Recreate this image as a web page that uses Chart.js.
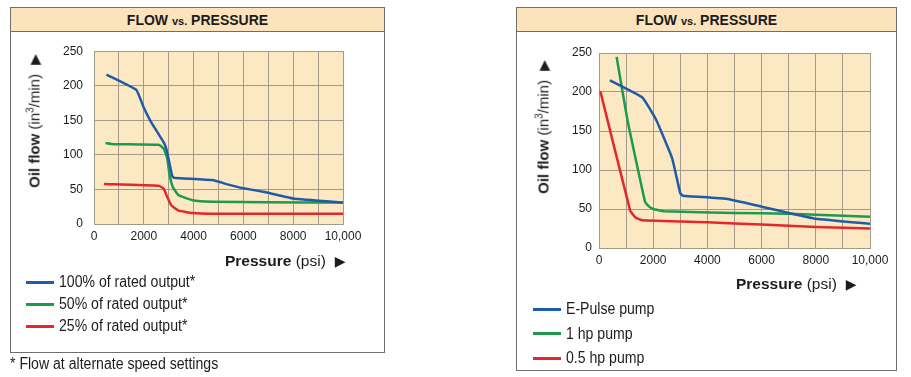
<!DOCTYPE html>
<html>
<head>
<meta charset="utf-8">
<script src="https://cdn.jsdelivr.net/npm/chart.js@4.4.1/dist/chart.umd.min.js"></script>
<style>
  body {
    margin: 0;
    width: 911px;
    height: 377px;
    position: relative;
    overflow: hidden;
    background: #fff;
    color: #1c1c1c;
    font-family: "Liberation Sans", Arial, sans-serif;
  }
  .panel {
    position: absolute;
    box-sizing: border-box;
    border: 1.5px solid #6e6e6e;
  }
  .band {
    height: 23px;
    background: #fbe4bb;
    border-bottom: 1.5px solid #6e6e6e;
    text-align: center;
    font-weight: bold;
    font-size: 14px;
    line-height: 24px;
  }
  .band small { font-size: 11px; }
  canvas { position: absolute; }
  .ytitle {
    position: absolute;
    white-space: nowrap;
    font-size: 15px;
    transform: translate(-50%, -50%) rotate(-90deg);
  }
  .ytitle sup { font-size: 10px; line-height: 0; vertical-align: 6px; }
  .xtitle {
    position: absolute;
    white-space: nowrap;
    font-size: 15.5px;
    transform: translateY(-50%);
  }
  .arrow { font-family: "DejaVu Sans", sans-serif; font-size: 14px; margin-left: 9px; }
  .legend {
    position: absolute;
    font-size: 16px;
    white-space: nowrap;
  }
  .legend div { display: flex; align-items: center; }
  .legend i { display: inline-block; width: 28px; height: 3px; margin-right: 5px; }
  /* texte condensé façon Helvetica Condensed */
  .narrow { display: inline-block; transform: scaleX(0.88); transform-origin: left center; }
  .note {
    position: absolute;
    left: 10px;
    top: 355px;
    font-size: 16px;
    white-space: nowrap;
  }
</style>
</head>
<body>

<div class="panel" style="left:10px; top:7px; width:375px; height:346px;">
  <div class="band">FLOW <small>vs.</small> PRESSURE</div>
</div>
<canvas id="leftChart" width="373" height="319" style="left:11px; top:33px; width:373px; height:319px;"></canvas>
<div class="ytitle" style="left:34px; top:121px;"><b>Oil flow</b> (in<sup>3</sup>/min)<span class="arrow">▶</span></div>
<div class="xtitle" style="left:225px; top:261px;"><b>Pressure</b> (psi)<span class="arrow">▶</span></div>
<div class="legend" id="leftLegend" style="left:26px; top:271px; line-height:22px;"></div>
<div class="note"><span class="narrow">* Flow at alternate speed settings</span></div>

<div class="panel" style="left:516px; top:7px; width:381px; height:364px;">
  <div class="band">FLOW <small>vs.</small> PRESSURE</div>
</div>
<canvas id="rightChart" width="379" height="337" style="left:517px; top:33px; width:379px; height:337px;"></canvas>
<div class="ytitle" style="left:543px; top:127px;"><b>Oil flow</b> (in<sup>3</sup>/min)<span class="arrow">▶</span></div>
<div class="xtitle" style="left:736px; top:284px;"><b>Pressure</b> (psi)<span class="arrow">▶</span></div>
<div class="legend" id="rightLegend" style="left:533px; top:297px; line-height:24.5px;"></div>

<script>
// Axes : ticks affichés
const pressureTicks = [0, 2000, 4000, 6000, 8000, 10000];
const flowTicks = [0, 50, 100, 150, 200, 250];

// Graphique de gauche (vitesses alternatives)
const leftLabels = ['100% of rated output*', '50% of rated output*', '25% of rated output*'];
const left100Psi = [500, 1700, 1980, 2270, 2800, 2910, 3140, 3200, 4750, 5400, 5950, 6900, 8000, 10000];
const left100Flow = [216, 194, 170, 149, 118, 108, 69.5, 67, 63.5, 57, 52, 46, 37, 31];
const left50Psi = [460, 800, 2600, 2800, 2940, 3030, 3170, 3400, 3950, 4750, 6900, 10000];
const left50Flow = [117, 115.5, 114.5, 109, 95, 72, 53, 41.5, 34.5, 32.3, 31.4, 31];
const left25Psi = [400, 2600, 2800, 2940, 3110, 3400, 3950, 4750, 10000];
const left25Flow = [58, 55.5, 51, 39, 26.7, 19.3, 16, 15, 15];

// Graphique de droite (comparaison des pompes)
const rightLabels = ['E-Pulse pump', '1 hp pump', '0.5 hp pump'];
const ePulsePsi = [400, 1600, 2100, 2700, 3000, 3100, 4700, 6000, 7000, 8000, 10000];
const ePulseFlow = [215, 193, 165, 115, 70, 67, 63, 53, 45, 37.5, 31];
const oneHpPsi = [650, 1050, 1700, 1850, 2000, 2400, 5000, 7000, 10000];
const oneHpFlow = [245, 164, 59, 53, 50, 47, 45, 44, 40];
const halfHpPsi = [50, 1150, 1350, 1600, 4000, 6000, 8000, 10000];
const halfHpFlow = [201, 48, 39, 35.5, 33, 30, 27, 25];

const seriesColors = ['#1f5ca6', '#1d9a4c', '#e2282b'];
const gridColor = '#a49a88';
const tickFont = { family: '"Liberation Sans", Arial, sans-serif', size: 12 };

/**
 * Assemble les couples (x, y) d'une série
 */
function toPoints(xs, ys) {
  return xs.map((x, i) => ({ x: x, y: ys[i] }));
}

/**
 * Remplit la zone de tracé en beige
 */
const plotBackground = {
  id: 'plotBackground',
  beforeDraw(chart, args, opts) {
    const { ctx, chartArea } = chart;
    ctx.save();
    ctx.fillStyle = opts.color;
    ctx.fillRect(chartArea.left, chartArea.top, chartArea.width, chartArea.height);
    ctx.restore();
  }
};

/**
 * Crée un graphique pression / débit
 *
 * @param {string} canvasId - ID du canvas
 * @param {Array} labels - Noms des séries
 * @param {Array} series - Couples [psi, flow]
 * @param {Object} geo - Marges de placement
 */
function createFlowChart(canvasId, labels, series, geo) {
  const datasets = series.map((s, i) => ({
    label: labels[i],
    data: toPoints(s[0], s[1]),
    borderColor: seriesColors[i],
    backgroundColor: seriesColors[i]
  }));

  return new Chart(document.getElementById(canvasId), {
    type: 'line',
    data: { datasets: datasets },
    plugins: [plotBackground],
    options: {
      responsive: false,
      animation: false,
      devicePixelRatio: 1,
      layout: {
        padding: { left: 0, top: geo.top, right: geo.right, bottom: geo.bottom }
      },
      elements: {
        point: { radius: 0 },
        line: { borderWidth: 2.5, tension: 0.1 }
      },
      plugins: {
        legend: { display: false },
        tooltip: { enabled: false },
        plotBackground: { color: '#fde8c4' }
      },
      scales: {
        x: {
          type: 'linear',
          min: 0,
          max: 10000,
          grid: { color: gridColor, drawTicks: false },
          border: { color: gridColor },
          ticks: {
            stepSize: 1000,
            autoSkip: false,
            maxRotation: 0,
            padding: 5,
            color: '#1c1c1c',
            font: tickFont,
            callback: (value) => {
              if (!pressureTicks.includes(value)) return '';
              return value >= 10000 ? value.toLocaleString('en-US') : String(value);
            }
          },
          afterFit: (scale) => { scale.height = 22; }
        },
        y: {
          min: 0,
          max: 250,
          grid: { color: gridColor, drawTicks: false },
          border: { color: gridColor },
          ticks: {
            stepSize: 50,
            padding: geo.yPad,
            color: '#1c1c1c',
            font: tickFont,
            callback: (value) => flowTicks.includes(value) ? String(value) : ''
          },
          afterFit: (scale) => { scale.width = geo.yWidth; }
        }
      }
    }
  });
}

/**
 * Légende HTML verticale construite depuis les datasets
 */
function buildLegend(chart, containerId) {
  const box = document.getElementById(containerId);
  chart.data.datasets.forEach(ds => {
    const row = document.createElement('div');
    const swatch = document.createElement('i');
    swatch.style.background = ds.borderColor;
    const text = document.createElement('span');
    text.className = 'narrow';
    text.textContent = ds.label;
    row.appendChild(swatch);
    row.appendChild(text);
    box.appendChild(row);
  });
}

const leftChart = createFlowChart('leftChart', leftLabels, [
  [left100Psi, left100Flow],
  [left50Psi, left50Flow],
  [left25Psi, left25Flow]
], { top: 12, right: 41, bottom: 106, yWidth: 83, yPad: 11 });

const rightChart = createFlowChart('rightChart', rightLabels, [
  [ePulsePsi, ePulseFlow],
  [oneHpPsi, oneHpFlow],
  [halfHpPsi, halfHpFlow]
], { top: 20, right: 26, bottom: 100, yWidth: 82, yPad: 7 });

buildLegend(leftChart, 'leftLegend');
buildLegend(rightChart, 'rightLegend');
</script>
</body>
</html>
